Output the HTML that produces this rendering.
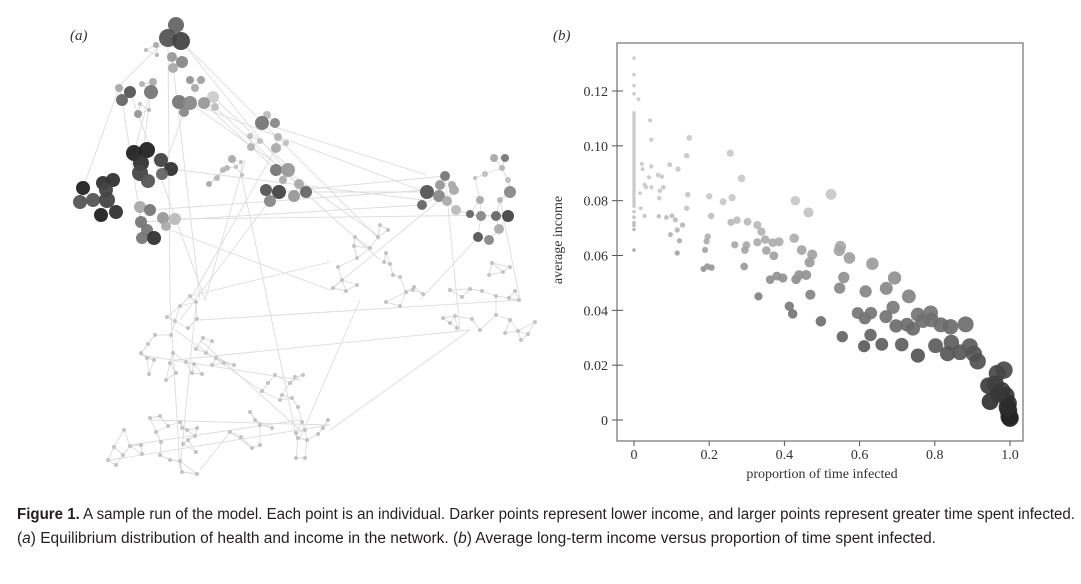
<!DOCTYPE html>
<html><head><meta charset="utf-8"><style>
html,body{margin:0;padding:0;background:#fff;width:1081px;height:584px;overflow:hidden}
svg text{font-family:"Liberation Serif",serif}
.cap{font-family:"Liberation Sans Narrow","Liberation Sans",sans-serif;font-size:15.5px;fill:#231f20}
</style></head><body>
<svg id="fig" width="1081" height="584" viewBox="0 0 1081 584" xmlns="http://www.w3.org/2000/svg">
<g id="net"></g>
<text x="70" y="40" font-size="15" font-style="italic" fill="#333">(a)</text>
<text x="553" y="40" font-size="15" font-style="italic" fill="#333">(b)</text>
<g id="chart"></g>
<text class="cap" x="17" y="519" textLength="1058" lengthAdjust="spacingAndGlyphs"><tspan font-weight="bold">Figure 1.</tspan> A sample run of the model. Each point is an individual. Darker points represent lower income, and larger points represent greater time spent infected.</text>
<text class="cap" x="17" y="543" textLength="919" lengthAdjust="spacingAndGlyphs">(<tspan font-style="italic">a</tspan>) Equilibrium distribution of health and income in the network. (<tspan font-style="italic">b</tspan>) Average long-term income versus proportion of time spent infected.</text>
</svg>
<script>
const NS="http://www.w3.org/2000/svg";
// ---------- panel b data ----------
const xTicks=[0,0.2,0.4,0.6,0.8,1.0];
const xTickLabels=["0","0.2","0.4","0.6","0.8","1.0"];
const yTicks=[0,0.02,0.04,0.06,0.08,0.10,0.12];
const yTickLabels=["0","0.02","0.04","0.06","0.08","0.10","0.12"];
const zeroColumnIncome=[0.132,0.126,0.122,0.119,0.112,0.111,0.110,0.109,0.108,0.107,0.106,0.105,0.104,0.103,0.102,0.101,0.100,0.099,0.098,0.097,0.096,0.095,0.094,0.093,0.092,0.091,0.090,0.089,0.088,0.087,0.086,0.085,0.084,0.083,0.082,0.081,0.080,0.079,0.078,0.076,0.074,0.072,0.071,0.0695,0.062];
const infected=[0.012,0.043,0.046,0.147,0.14,0.021,0.023,0.046,0.095,0.117,0.064,0.074,0.04,0.028,0.046,0.032,0.078,0.069,0.016,0.143,0.067,0.018,0.14,0.028,0.066,0.086,0.101,0.11,0.129,0.115,0.097,0.121,0.115,0.2,0.237,0.261,0.256,0.286,0.205,0.258,0.274,0.302,0.328,0.339,0.196,0.193,0.328,0.349,0.369,0.386,0.268,0.299,0.295,0.189,0.352,0.372,0.426,0.446,0.474,0.467,0.185,0.195,0.206,0.293,0.362,0.38,0.396,0.431,0.439,0.458,0.469,0.331,0.413,0.422,0.497,0.429,0.464,0.524,0.549,0.546,0.573,0.634,0.558,0.547,0.616,0.671,0.693,0.731,0.689,0.595,0.614,0.63,0.67,0.697,0.726,0.742,0.755,0.768,0.789,0.791,0.816,0.842,0.882,0.554,0.629,0.612,0.659,0.712,0.755,0.802,0.844,0.834,0.867,0.893,0.904,0.914,0.984,0.966,0.943,0.961,0.978,0.989,0.947,0.995,0.996,0.998,1.0,0.97,0.993];
const income=[0.117,0.1093,0.1022,0.1029,0.0964,0.0934,0.0915,0.0925,0.0931,0.0915,0.0894,0.0888,0.0885,0.0858,0.0849,0.0849,0.0849,0.0836,0.0827,0.0822,0.0809,0.0772,0.0772,0.0744,0.0743,0.0739,0.0745,0.073,0.0711,0.0693,0.0676,0.0654,0.0609,0.0816,0.0796,0.0811,0.0973,0.0881,0.0744,0.0721,0.0729,0.0723,0.0711,0.0687,0.0669,0.0652,0.0648,0.0658,0.0647,0.065,0.0639,0.0638,0.062,0.062,0.0618,0.0599,0.0663,0.062,0.0603,0.0575,0.0551,0.056,0.0556,0.056,0.0512,0.0525,0.0518,0.0513,0.0529,0.0529,0.0457,0.0451,0.0415,0.0387,0.036,0.08,0.0757,0.0823,0.0633,0.0618,0.0591,0.057,0.052,0.0481,0.0469,0.048,0.0518,0.0451,0.0411,0.039,0.0371,0.039,0.0377,0.0343,0.0348,0.0333,0.0384,0.0362,0.0391,0.0365,0.0347,0.034,0.0349,0.0304,0.031,0.0269,0.0276,0.0275,0.0235,0.0271,0.0283,0.0242,0.0247,0.0269,0.0241,0.0214,0.0182,0.017,0.0125,0.0131,0.0107,0.0089,0.0067,0.0061,0.0034,0.0012,0.0007,0.0095,0.0046];

const X0=634,X1=1010,Y0=420,Y1=91;
const xs=v=>X0+(X1-X0)*v;
const ys=v=>Y0-(Y0-Y1)*v/0.12;
function mk(tag,attrs,parent){const e=document.createElementNS(NS,tag);for(const k in attrs)e.setAttribute(k,attrs[k]);parent.appendChild(e);return e;}
const chart=document.getElementById('chart');
const frame=mk('rect',{x:617,y:43,width:406,height:398,fill:'none',stroke:'#555','stroke-width':1},chart);


xTicks.forEach((t,i)=>{
  const l=mk('line',{x1:xs(t),x2:xs(t),y1:441,y2:446,stroke:'#555'},chart);
  
  
  const tx=mk('text',{x:xs(t),y:459,'text-anchor':'middle','font-size':14,fill:'#333'},chart);
  tx.textContent=xTickLabels[i];
  
  
});
yTicks.forEach((t,i)=>{
  const l=mk('line',{x1:612,x2:623,y1:ys(t),y2:ys(t),stroke:'#555'},chart);
  
  
  const tx=mk('text',{x:608,y:ys(t)+5,'text-anchor':'end','font-size':14,fill:'#333'},chart);
  tx.textContent=yTickLabels[i];
  
  
});
const xt=mk('text',{x:822,y:478,'text-anchor':'middle','font-size':14,fill:'#333'},chart);
xt.textContent='proportion of time infected';


const yt=mk('text',{x:0,y:0,'text-anchor':'middle','font-size':14,fill:'#333',transform:'translate(562,240) rotate(-90)'},chart);
yt.textContent='average income';


function grey(y){const g=Math.round(Math.min(200,35+y*2100));return `rgb(${g},${g},${g})`;}
function pt(x,y){
  const c=mk('circle',{cx:xs(x),cy:ys(y),r:1.8+7*x,fill:grey(y),'fill-opacity':0.92},chart);
  
  
}
zeroColumnIncome.forEach(y=>pt(0,y));
infected.forEach((x,i)=>pt(x,income[i]));

// ---------- panel a network ----------
const bigNodes=[[176,25,8,102],[168,38,9,85],[181,41,9,68],[156,45,3,170],[146,50,2,180],[157,55,2,180],[172,57,5,153],[182,62,6,136],[173,68,5,170],[190,80,4,150],[201,80,4,160],[195,88,4,170],[213,97,6,204],[215,107,4,190],[179,102,7,119],[190,103,7,136],[204,103,6,153],[184,112,5,136],[119,88,4,170],[130,92,6,85],[122,100,6,102],[142,84,3,180],[153,82,4,170],[151,92,7,119],[140,104,2,190],[149,110,2,180],[138,114,4,150],
[134,153,8,34],[147,150,8,34],[141,163,8,51],[161,160,7,68],[171,169,7,51],[140,173,8,68],[148,181,7,85],[162,174,6,102],[83,188,7,34],[103,183,7,51],[113,180,7,51],[80,202,7,85],[93,200,7,85],[106,190,7,68],[101,215,7,34],[116,212,7,51],[107,200,8,68],[140,207,6,170],[141,222,6,119],[150,210,6,119],[163,218,6,153],[175,219,6,187],[166,226,5,170],[147,230,6,119],[142,238,6,119],[154,238,7,51],
[267,115,4,187],[262,123,7,119],[275,123,5,136],[250,136,3,190],[260,141,3,190],[251,147,4,180],[278,137,4,180],[286,143,3,190],[276,148,5,170],[232,159,4,170],[227,168,3,180],[242,175,2,190],[276,170,6,119],[288,170,7,153],[283,180,4,170],[266,190,6,85],[279,192,7,68],[270,201,6,136],[299,184,5,170],[306,192,6,102],[294,196,6,153],[209,184,3,170],[217,178,3,180],[223,170,3,180],[236,167,2,190],[241,162,2,190],
[445,176,5,119],[427,192,7,85],[440,185,5,153],[452,185,4,170],[439,196,6,136],[422,205,5,102],[454,190,5,170],[447,201,5,170],[456,210,5,187],[494,158,4,170],[505,158,4,119],[502,168,3,180],[485,174,3,190],[475,178,2,190],[508,180,3,190],[510,192,6,136],[480,200,4,170],[470,214,4,102],[481,216,5,136],[496,216,5,102],[508,216,6,68],[499,229,5,170],[478,237,5,85],[489,240,5,136],[500,200,3,180]];
const smallNodes=[[380,225],[388,230],[355,237],[378,237],[354,246],[370,248],[386,253],[384,262],[338,267],[357,258],[342,280],[333,288],[346,291],[357,285],[390,264],[393,275],[400,277],[406,292],[386,302],[400,306],[413,290],[423,294],[450,290],[462,297],[470,289],[482,291],[489,275],[492,263],[503,272],[510,267],[515,291],[519,300],[496,296],[443,318],[455,316],[450,323],[472,319],[480,330],[496,315],[510,320],[505,333],[518,331],[521,340],[528,334],[535,322],[457,328],[509,298],[414,287],
[190,296],[180,306],[196,302],[197,319],[167,317],[175,321],[188,328],[203,338],[212,341],[206,353],[196,349],[148,344],[155,335],[171,335],[173,353],[141,353],[147,358],[154,360],[170,363],[186,362],[194,364],[176,373],[192,373],[202,374],[212,365],[216,358],[224,363],[234,365],[166,380],[149,374],[275,375],[268,383],[290,383],[295,377],[303,375],[282,395],[292,398],[262,391],[280,400],[250,412],[255,420],[260,425],[272,428],[230,432],[241,437],[252,448],[260,445],[298,407],[302,422],[298,438],[296,433],[305,430],[318,434],[323,428],[328,420],[160,416],[150,418],[168,426],[182,428],[156,432],[141,445],[160,455],[124,430],[114,447],[123,455],[130,446],[142,454],[161,442],[170,460],[180,461],[188,440],[195,436],[196,452],[183,444],[187,430],[180,422],[116,465],[108,460],[197,428],[197,474],[182,472],[296,458],[307,440],[305,458]];
const longEdges=[[181,41,300,188],[176,30,117,88],[168,40,170,300],[172,57,200,300],[130,92,205,300],[190,103,425,192],[262,123,427,175],[171,169,422,200],[150,210,427,190],[175,219,508,215],[170,230,330,290],[141,222,420,205],[213,97,292,170],[190,103,380,237],[245,160,205,300],[270,200,180,320],[240,170,297,440],[276,148,190,300],[300,188,380,260],[181,41,380,240],[445,176,460,330],[500,200,520,300],[440,200,330,290],[478,237,420,300],[200,320,520,300],[175,360,470,330],[330,430,470,330],[300,438,360,300],[150,420,330,425],[170,300,180,470],[196,302,180,470],[130,445,300,420],[110,460,330,425],[230,432,200,470],[190,296,330,262],[260,390,175,330],[200,340,300,430],[140,355,300,380],[122,100,141,222],[151,92,140,173],[184,112,162,174],[204,103,276,170],[119,88,83,188],[153,82,134,153],[215,107,306,192],[306,192,427,192],[279,192,445,176]];
const net=document.getElementById('net');
const all=bigNodes.map(n=>[n[0],n[1]]).concat(smallNodes);
let edges=longEdges.slice();
all.forEach((a,i)=>{
  const d=all.map((b,j)=>[Math.hypot(a[0]-b[0],a[1]-b[1]),j]).filter(x=>x[1]!==i).sort((p,q)=>p[0]-q[0]);
  for(let k=0;k<2;k++){const b=all[d[k][1]];edges.push([a[0],a[1],b[0],b[1]]);}
});
edges.forEach(e=>{
  const l=mk('line',{x1:e[0],y1:e[1],x2:e[2],y2:e[3],stroke:'#dcdcdc','stroke-width':0.9},net);
  
  
});
smallNodes.forEach(n=>{
  const c=mk('circle',{cx:n[0],cy:n[1],r:2,fill:'#c4c4c4'},net);
  
  
});
bigNodes.forEach(n=>{
  const c=mk('circle',{cx:n[0],cy:n[1],r:n[2],fill:`rgb(${n[3]},${n[3]},${n[3]})`,'fill-opacity':0.95},net);
  
  
});
</script>
</body></html>
